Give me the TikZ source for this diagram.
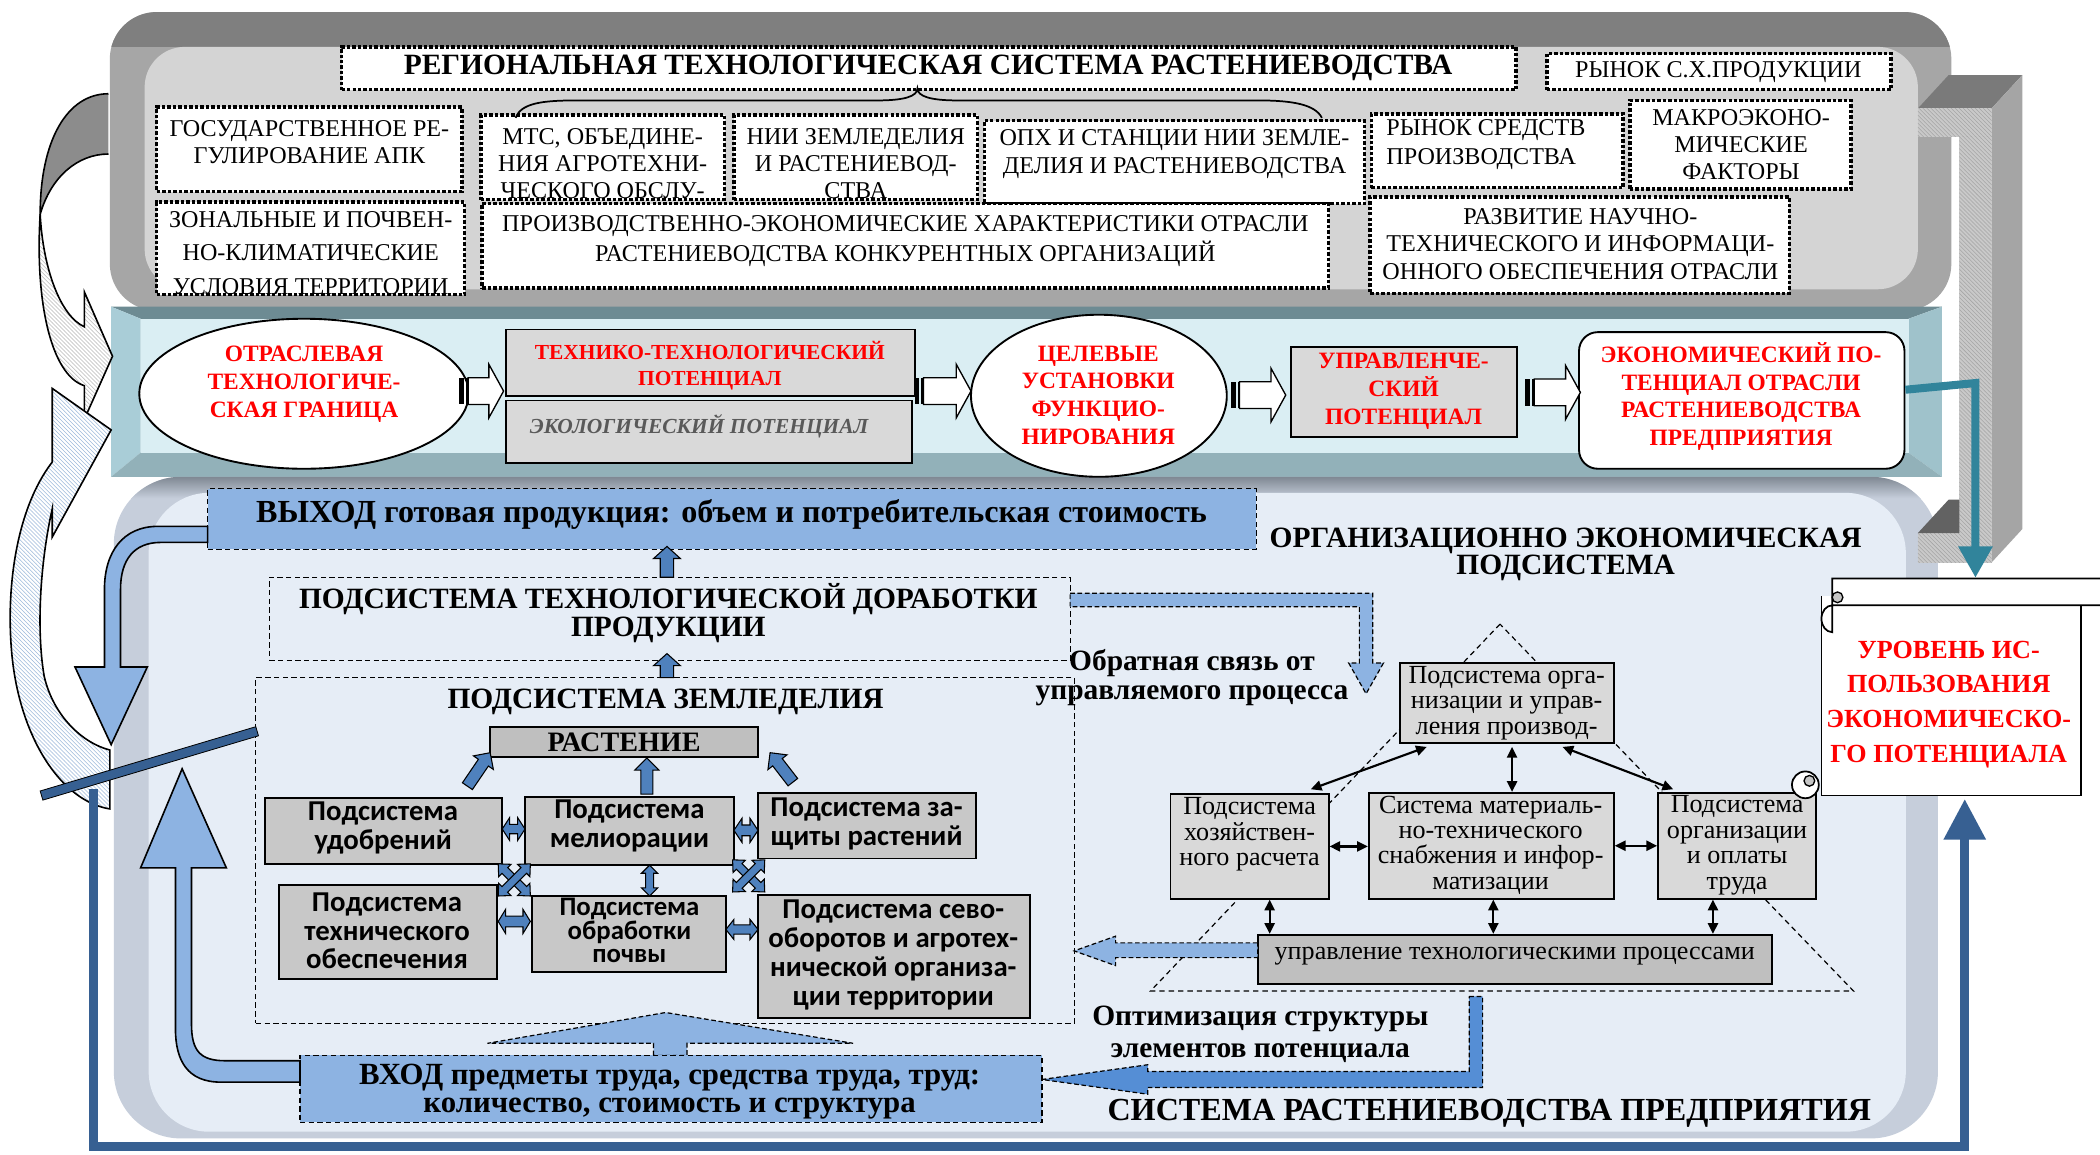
\documentclass[tikz,border=0pt]{standalone}
\usepackage{fontspec}
\setmainfont{Liberation Serif}
\newfontfamily\calfont{Carlito}
\usetikzlibrary{calc,patterns,arrows.meta,shapes.geometric}
\definecolor{tpDark}{HTML}{7F7F7F}
\definecolor{tpSide}{HTML}{A6A6A6}
\definecolor{tpFront}{HTML}{D4D4D4}
\definecolor{mpTop}{HTML}{6D8B93}
\definecolor{mpLeft}{HTML}{A9CDD7}
\definecolor{mpRight}{HTML}{9FC2CB}
\definecolor{mpBottom}{HTML}{92B1B9}
\definecolor{mpFront}{HTML}{DAEEF3}
\definecolor{lpSide}{HTML}{C6CEDB}
\definecolor{lpTop}{HTML}{7F8893}
\definecolor{lpFront}{HTML}{E6EDF6}
\definecolor{lblue}{HTML}{8DB3E2}
\definecolor{mblue}{HTML}{558ED5}
\definecolor{sblue}{HTML}{4F81BD}
\definecolor{dblue}{HTML}{376092}
\definecolor{tealarr}{HTML}{31849B}
\definecolor{boxgray}{HTML}{D9D9D9}
\definecolor{landgray}{HTML}{C8C8C8}
\definecolor{midgray}{HTML}{BFBFBF}
\definecolor{ecogray}{HTML}{595959}
\definecolor{pipeFront}{HTML}{C9C9C9}
\definecolor{pipeSide}{HTML}{A5A5A5}
\definecolor{pipeTop}{HTML}{7A7A7A}
\definecolor{hatchgray}{HTML}{8C8C8C}
\newcommand\fsz[2]{\fontsize{#1}{#2}\selectfont}
% block arrow: [style]{x1}{y1}{x2}{y2}{shaft half}{head half}{head length}
\newcommand\blkarrow[8][]{%
  \pgfmathsetmacro\baAng{atan2((#3)-(#5),(#4)-(#2))}%
  \pgfmathsetmacro\baLen{veclen((#4)-(#2),(#5)-(#3))}%
  \pgfmathsetmacro\baL{\baLen-(#8)}%
  \begin{scope}[shift={(#2,#3)},rotate=\baAng]
    \draw[#1] (0pt,#6pt) -- (\baL pt,#6pt) -- (\baL pt,#7pt) -- (\baLen pt,0pt)
      -- (\baL pt,-#7pt) -- (\baL pt,-#6pt) -- (0pt,-#6pt) -- cycle;
  \end{scope}}
\newcommand\dblarrow[8][]{%
  \pgfmathsetmacro\baAng{atan2((#3)-(#5),(#4)-(#2))}%
  \pgfmathsetmacro\baLen{veclen((#4)-(#2),(#5)-(#3))}%
  \pgfmathsetmacro\baL{\baLen-(#8)}%
  \begin{scope}[shift={(#2,#3)},rotate=\baAng]
    \draw[#1] (0pt,0pt) -- (#8pt,#7pt) -- (#8pt,#6pt) -- (\baL pt,#6pt) -- (\baL pt,#7pt)
      -- (\baLen pt,0pt) -- (\baL pt,-#7pt) -- (\baL pt,-#6pt) -- (#8pt,-#6pt) -- (#8pt,-#7pt) -- cycle;
  \end{scope}}
\newcommand\hollowarr[3]{%
  \fill[black] (#1,{#3-10}) rectangle ({#1+3.5},{#3+10});
  \fill[black] ({#1+5},{#3-10}) rectangle ({#1+6.5},{#3+10});
  \draw[line width=1pt, fill=white] ({#1+6.5},{#3-10}) -- ({#2-11},{#3-10}) -- ({#2-11},{#3-20})
    -- (#2,#3) -- ({#2-11},{#3+20}) -- ({#2-11},{#3+10}) -- ({#1+6.5},{#3+10}) -- cycle;}
\begin{document}
\begin{tikzpicture}[x=1pt,y=-1pt,
  dotbox/.style={draw, line width=2.6pt, dash pattern=on 2.6pt off 1.5pt, fill=white, inner sep=0pt},
  ttop/.style={align=center, inner sep=0pt, font=\fsz{18}{20.5}},
  redb/.style={align=center, inner sep=0pt, text=red, font=\bfseries\fsz{17.5}{20.7}},
  gbox/.style={draw, line width=1.4pt, fill=boxgray, inner sep=0pt},
  lbox/.style={draw, line width=1.4pt, fill=landgray, inner sep=0pt},
  dashbox/.style={draw, line width=0.9pt, dash pattern=on 4pt off 2.5pt, inner sep=0pt},
  btxt/.style={align=center, inner sep=0pt, font=\bfseries\fsz{22}{21}},
  ltxt/.style={align=center, inner sep=0pt, font=\calfont\bfseries\fsz{21.5}{21.5}},
  otxt/.style={align=center, inner sep=0pt, font=\fsz{19.5}{19}},
  smallblue/.style={draw=black, line width=0.8pt, fill=sblue},
  dashblue/.style={draw=black, line width=0.9pt, dash pattern=on 3.5pt off 2pt, fill=lblue},
  biarrow/.style={{Triangle[length=8pt,width=7.5pt]}-{Triangle[length=8pt,width=7.5pt]}, line width=1.6pt},
  bluearr/.style={draw=black, line width=1.2pt, fill=lblue},
]
\useasboundingbox (0,0) rectangle (1568,862);
\fill[white] (0,0) rectangle (1568,862);

% ================= TOP PANEL =================
\begin{scope}
  \clip[rounded corners=35] (82,9) rectangle (1457,232);
  \fill[tpSide] (0,0) rectangle (1568,300);
  \fill[tpDark] (0,0) rectangle (1568,35);
\end{scope}
\fill[tpFront, rounded corners=30] (108,35) rectangle (1432,216);

% ================= MIDDLE PANEL =================
\fill[mpTop] (83,229) -- (1450,229) -- (1425,238) -- (105,238) -- cycle;
\fill[mpLeft] (83,229) -- (105,238) -- (105,338) -- (83,356) -- cycle;
\fill[mpRight] (1450,229) -- (1425,238) -- (1425,338) -- (1450,356) -- cycle;
\fill[mpBottom] (83,356) -- (105,338) -- (1425,338) -- (1450,356) -- cycle;
\fill[mpFront] (105,238) rectangle (1425,338);

% ================= LOWER PANEL =================
\begin{scope}
  \clip[rounded corners=50] (85,356) rectangle (1447,850);
  \fill[lpSide] (0,300) rectangle (1568,862);
  \shade[top color=lpTop, bottom color=lpSide] (0,356) rectangle (1568,372);
\end{scope}
\fill[lpFront, rounded corners=45] (111,368) rectangle (1423,845);

% ================= RIGHT PIPE =================
\fill[pipeTop] (1432,81) -- (1455,56) -- (1510,56) -- (1487,81) -- cycle;
\fill[pipeSide] (1487,81) -- (1510,56) -- (1510,395) -- (1487,420) -- cycle;
\path[preaction={fill=pipeFront}, pattern=north west lines, pattern color=gray!70] (1432,81) rectangle (1487,102);
\path[preaction={fill=pipeFront}, pattern=north west lines, pattern color=gray!70] (1463,102) rectangle (1487,420);
\path[preaction={fill=pipeFront}, pattern=north west lines, pattern color=gray!70] (1432,398) rectangle (1487,420);
\fill[pipeTop!80!black] (1432,398) -- (1455,373) -- (1463,373) -- (1463,398) -- cycle;

% ================= TOP BOXES =================
\node[dotbox, minimum width=877, minimum height=32] (title) at (693.5,51) {};
\node[align=center, inner sep=0pt, font=\bfseries\fsz{22}{24}] (title-t) at (693,51) {РЕГИОНАЛЬНАЯ ТЕХНОЛОГИЧЕСКАЯ СИСТЕМА РАСТЕНИЕВОДСТВА};
\node[dotbox, minimum width=257, minimum height=27] (rynok) at (1283.5,53.5) {};
\node[ttop] (rynok-t) at (1283,53.5) {РЫНОК С.Х.ПРОДУКЦИИ};
\node[dotbox, minimum width=228, minimum height=63] (gos) at (231,111.5) {};
\node[ttop, font=\fsz{18}{20}] (gos-t) at (231,106) {ГОСУДАРСТВЕННОЕ РЕ-\\ГУЛИРОВАНИЕ АПК};
\node[dotbox, minimum width=230, minimum height=69] (zon) at (232,185.5) {};
\node[ttop, font=\fsz{18}{25}] (zon-t) at (232,189) {ЗОНАЛЬНЫЕ И ПОЧВЕН-\\НО-КЛИМАТИЧЕСКИЕ\\УСЛОВИЯ ТЕРРИТОРИИ};
\node[dotbox, minimum width=182, minimum height=63] (mts) at (450,117.5) {};
\node[ttop, font=\fsz{18}{20}] (mts-t) at (450,122) {МТС, ОБЪЕДИНЕ-\\НИЯ АГРОТЕХНИ-\\ЧЕСКОГО ОБСЛУ-};
\node[dotbox, minimum width=182, minimum height=63] (nii) at (639,117.5) {};
\node[ttop, font=\fsz{18}{20}] (nii-t) at (639,122) {НИИ ЗЕМЛЕДЕЛИЯ\\И РАСТЕНИЕВОД-\\СТВА};
\node[dotbox, minimum width=284, minimum height=62] (oph) at (877,121) {};
\node[ttop, font=\fsz{18}{21.5}] (oph-t) at (877,115) {ОПХ И СТАНЦИИ НИИ ЗЕМЛЕ-\\ДЕЛИЯ И РАСТЕНИЕВОДСТВА};
\node[dotbox, minimum width=632, minimum height=63] (proiz) at (676,183.5) {};
\node[ttop, font=\fsz{18}{23}] (proiz-t) at (676,180) {ПРОИЗВОДСТВЕННО-ЭКОНОМИЧЕСКИЕ ХАРАКТЕРИСТИКИ ОТРАСЛИ\\РАСТЕНИЕВОДСТВА КОНКУРЕНТНЫХ ОРГАНИЗАЦИЙ};
\node[dotbox, minimum width=188, minimum height=55] (rsp) at (1118,112.5) {};
\node[ttop, align=left, anchor=west, font=\fsz{18}{22}] (rsp-t) at (1035,108) {РЫНОК СРЕДСТВ\\ПРОИЗВОДСТВА};
\node[dotbox, minimum width=165, minimum height=66] (makro) at (1299.5,108) {};
\node[ttop] (makro-t) at (1300,108) {МАКРОЭКОНО-\\МИЧЕСКИЕ\\ФАКТОРЫ};
\node[dotbox, minimum width=313, minimum height=72] (razv) at (1179.5,183) {};
\node[ttop] (razv-t) at (1180,182) {РАЗВИТИЕ НАУЧНО-\\ТЕХНИЧЕСКОГО И ИНФОРМАЦИ-\\ОННОГО ОБЕСПЕЧЕНИЯ ОТРАСЛИ};
% brace
\draw[line width=1.3pt] (385,88) .. controls (389,77) and (405,75) .. (430,75) -- (655,75)
  .. controls (675,75) and (685,72) .. (685,66) .. controls (685,72) and (695,75) .. (715,75)
  -- (940,75) .. controls (965,75) and (982,78) .. (987,88);

% ================= MIDDLE ELEMENTS =================
\node[ellipse, draw, line width=1.4pt, fill=white, minimum width=246, minimum height=112, inner sep=0pt] (ell1) at (227,294) {};
\node[redb] (ell1-t) at (227,287) {ОТРАСЛЕВАЯ\\ТЕХНОЛОГИЧЕ-\\СКАЯ ГРАНИЦА};
\node[gbox, minimum width=305, minimum height=50] (tex) at (530.5,271) {};
\node[redb, font=\bfseries\fsz{16}{20}] (tex-t) at (530,273) {ТЕХНИКО-ТЕХНОЛОГИЧЕСКИЙ\\ПОТЕНЦИАЛ};
\node[gbox, minimum width=303, minimum height=47] (eco) at (529.5,322.5) {};
\node[inner sep=0pt, text=ecogray, font=\bfseries\itshape\fsz{16}{18}] (eco-t) at (522,318) {ЭКОЛОГИЧЕСКИЙ ПОТЕНЦИАЛ};
\node[ellipse, draw, line width=1.4pt, fill=white, minimum width=191, minimum height=121, inner sep=0pt] (ell2) at (820.5,295.5) {};
\node[redb] (ell2-t) at (820,295) {ЦЕЛЕВЫЕ\\УСТАНОВКИ\\ФУНКЦИО-\\НИРОВАНИЯ};
\node[gbox, minimum width=169, minimum height=67] (upr) at (1048.5,292.5) {};
\node[redb] (upr-t) at (1048,292) {УПРАВЛЕНЧЕ-\\СКИЙ\\ПОТЕНЦИАЛ};
\node[draw, line width=1.4pt, fill=white, rounded corners=14, minimum width=243, minimum height=102, inner sep=0pt] (econ) at (1300.5,299) {};
\node[redb] (econ-t) at (1300,296) {ЭКОНОМИЧЕСКИЙ ПО-\\ТЕНЦИАЛ ОТРАСЛИ\\РАСТЕНИЕВОДСТВА\\ПРЕДПРИЯТИЯ};
\hollowarr{343}{376}{292}
\hollowarr{683}{725}{292}
\hollowarr{919}{960}{295}
\hollowarr{1139}{1180}{293}

% ================= LOWER ELEMENTS =================
% dashed triangle of org subsystem
\draw[line width=0.9pt, dash pattern=on 4pt off 3pt] (1120,466) -- (859,740) -- (1384,740) -- cycle;

\node[dashbox, fill=lblue, minimum width=783, minimum height=45] (vyhod) at (546.5,387.5) {};
\node[anchor=base west, inner sep=0pt, font=\bfseries\fsz{24}{25}] (vyhod-t) at (191,390) {ВЫХОД готовая продукция: объем и потребительская стоимость};
\node[dashbox, minimum width=598, minimum height=62] (dor) at (500,462) {};
\node[btxt] (dor-t) at (499,458) {ПОДСИСТЕМА ТЕХНОЛОГИЧЕСКОЙ ДОРАБОТКИ\\ПРОДУКЦИИ};
\node[dashbox, minimum width=611, minimum height=258] (zem) at (496.5,635) {};
\node[btxt] (zem-t) at (497,524) {ПОДСИСТЕМА ЗЕМЛЕДЕЛИЯ};
\blkarrow[smallblue]{498}{431}{498}{408}{5}{10}{9}
\blkarrow[smallblue]{498}{506}{498}{488}{5}{10}{9}

\node[draw, line width=1.4pt, fill=midgray, minimum width=200, minimum height=22, inner sep=0pt] (rast) at (466,554) {};
\node[inner sep=0pt, font=\bfseries\fsz{21}{22}] (rast-t) at (466,554) {РАСТЕНИЕ};
\node[lbox, minimum width=177, minimum height=49] (udob) at (286.5,620.5) {};
\node[ltxt] (udob-t) at (286,618) {Подсистема\\удобрений};
\node[lbox, minimum width=156, minimum height=51] (mel) at (470,620.5) {};
\node[ltxt] (mel-t) at (470,617) {Подсистема\\мелиорации};
\node[lbox, minimum width=163, minimum height=49] (zasch) at (647.5,616.5) {};
\node[ltxt] (zasch-t) at (647,615) {Подсистема за-\\щиты растений};
\node[lbox, minimum width=163, minimum height=70] (tehn) at (289.5,696) {};
\node[ltxt] (tehn-t) at (289,695) {Подсистема\\технического\\обеспечения};
\node[lbox, minimum width=145, minimum height=57] (obr) at (469.5,697.5) {};
\node[ltxt, font=\calfont\bfseries\fsz{20}{17.5}] (obr-t) at (470,695) {Подсистема\\обработки\\почвы};
\node[lbox, minimum width=203, minimum height=92] (sev) at (667.5,714) {};
\node[ltxt] (sev-t) at (667,713) {Подсистема сево-\\оборотов и агротех-\\нической организа-\\ции территории};
% arrows to plant
\blkarrow[smallblue]{349}{587}{366}{562}{4.5}{9}{9}
\blkarrow[smallblue]{483}{593}{483}{566}{4.5}{9}{9}
\blkarrow[smallblue]{592}{584}{575}{562}{4.5}{9}{9}
% small double arrows
\dblarrow[smallblue]{375}{619}{392}{619}{3.5}{8.5}{5.5}
\dblarrow[smallblue]{548}{620}{566}{620}{4}{9}{6}
\dblarrow[smallblue]{372}{645}{396}{669}{3}{6.5}{7}
\dblarrow[smallblue]{372}{669}{396}{645}{3}{6.5}{7}
\dblarrow[smallblue]{547}{642}{571}{666}{3}{6.5}{7}
\dblarrow[smallblue]{547}{666}{571}{642}{3}{6.5}{7}
\dblarrow[smallblue]{485}{646}{485}{669}{3}{6}{6}
\dblarrow[smallblue]{372}{688}{396}{688}{4}{9}{5.5}
\dblarrow[smallblue]{542}{694}{566}{694}{3.5}{7.5}{6}

% organizational subsystem
\node[btxt, font=\bfseries\fsz{22}{20.5}] (org-t) at (1169,414) {ОРГАНИЗАЦИОННО ЭКОНОМИЧЕСКАЯ\\ПОДСИСТЕМА};
\draw[dashblue] (799,443) -- (1025,443) -- (1025,495) -- (1033,495) -- (1020,518) -- (1007,495)
  -- (1015,495) -- (1015,453) -- (799,453) -- cycle;
\node[btxt, font=\bfseries\fsz{22}{22}] (fb-t) at (890,506) {Обратная связь от\\управляемого процесса};
\node[gbox, minimum width=160, minimum height=60] (org1) at (1125,525) {};
\node[otxt] (org1-t) at (1125,525) {Подсистема орга-\\низации и управ-\\ления производ-};
\node[gbox, minimum width=118, minimum height=78] (hoz) at (933,632) {};
\node[otxt] (hoz-t) at (933,623) {Подсистема\\хозяйствен-\\ного расчета};
\node[gbox, minimum width=183, minimum height=79] (sys) at (1113.5,631.5) {};
\node[otxt] (sys-t) at (1113,631) {Система материаль-\\но-технического\\снабжения и инфор-\\матизации};
\node[gbox, minimum width=118, minimum height=79] (trud) at (1297,631.5) {};
\node[otxt] (trud-t) at (1297,631) {Подсистема\\организации\\и оплаты\\труда};
\node[draw, line width=1.4pt, fill=midgray, minimum width=384, minimum height=37, inner sep=0pt] (upr2) at (1131,716.5) {};
\node[otxt] (upr2-t) at (1131,714) {управление технологическими процессами};
\coordinate (a1s) at ($(hoz.north east)+(-14,-3)$);
\coordinate (a1e) at ($(org1.south west)+(21,2)$);
\draw[biarrow] (a1s) -- (a1e);
\coordinate (a2s) at ($(org1.south)+(4,2)$);
\draw[biarrow] (a2s) -- (a2s |- sys.north);
\coordinate (a3s) at ($(org1.south east)+(-39,2)$);
\coordinate (a3e) at ($(trud.north west)+(12,-2)$);
\draw[biarrow] (a3s) -- (a3e);
\draw[biarrow] (hoz.east) -- (hoz.east -| sys.west);
\draw[biarrow] (sys.east) -- (sys.east -| trud.west);
\coordinate (v1) at ($(hoz.south)+(15,0)$);
\coordinate (v2) at ($(sys.south)+(1.5,0)$);
\coordinate (v3) at ($(trud.south)+(-18,0)$);
\draw[biarrow] (v1) -- (v1 |- upr2.north);
\draw[biarrow] (v2) -- (v2 |- upr2.north);
\draw[biarrow] (v3) -- (v3 |- upr2.north);
% arrow from process management to land subsystem
\draw[dashblue] (939,704) -- (833,704) -- (833,699) -- (802,710) -- (833,721) -- (833,715) -- (939,715) -- cycle;
% optimisation arrow
\draw[dashblue, fill=mblue] (1097,744) -- (1107,744) -- (1107,812) -- (857,812) -- (857,817) -- (778,806)
  -- (857,795) -- (857,800) -- (1097,800) -- cycle;
\node[btxt, font=\bfseries\fsz{22}{24}] (opt-t) at (941,772) {Оптимизация структуры\\элементов потенциала};
% input
\draw[dashblue] (488,788) -- (488,779) -- (364,779) -- (497,756) -- (637,779) -- (513,779) -- (513,788) -- cycle;
\node[dashbox, fill=lblue, minimum width=554, minimum height=50] (vhod) at (501,813) {};
\begin{scope}
  \clip (224,788) rectangle (778,836);
  \node[btxt, font=\bfseries\fsz{23}{20.5}] (vhod-t) at (500,815) {ВХОД предметы труда, средства труда, труд:\\количество, стоимость и структура};
\end{scope}
\node[inner sep=0pt, font=\bfseries\fsz{24}{25}] (sys-name) at (1112,831) {СИСТЕМА РАСТЕНИЕВОДСТВА ПРЕДПРИЯТИЯ};

% ================= SCROLL =================
\draw[line width=1.3pt, fill=white] (1360,445) -- (1360,594) -- (1554,594) -- (1554,450);
\draw[line width=1.3pt, fill=white] (1368,432) -- (1580,432) -- (1580,452) -- (1368,452)
  arc[start angle=270, end angle=90, x radius=8, y radius=10] -- cycle;
\draw[line width=1pt, fill=gray!45] (1372,446) circle (4);
\draw[line width=1.3pt, fill=white] (1348,586) circle (10);
\draw[line width=1pt, fill=gray!45] (1351,583) circle (4);
\node[align=center, inner sep=0pt, text=red, font=\bfseries\fsz{19.5}{26}] (scroll-t) at (1455,526) {УРОВЕНЬ ИС-\\ПОЛЬЗОВАНИЯ\\ЭКОНОМИЧЕСКО-\\ГО ПОТЕНЦИАЛА};

% ================= LEFT ARROWS =================
% arrow A (top panel -> middle panel)
\fill[hatchgray] (81,70) .. controls (50,70) and (30,105) .. (30,160) .. controls (38,132) and (58,115) .. (81,115) -- cycle;
\draw[line width=1.2pt] (81,70) .. controls (50,70) and (30,105) .. (30,160) .. controls (38,132) and (58,115) .. (81,115);
\path[draw, line width=1.2pt, preaction={fill=white}, pattern=north west lines, pattern color=gray!55]
  (30,160) .. controls (32,200) and (45,236) .. (63,244) -- (63,218) -- (84,266) -- (63,313) -- (63,288)
  .. controls (38,280) and (26,225) .. (30,160) -- cycle;
% arrow B (lower panel -> middle panel)
\path[draw, line width=1.2pt, preaction={fill=white}, pattern=north west lines, pattern color=sblue!55]
  (82,560) .. controls (62,555) and (40,535) .. (33,505) .. controls (27,470) and (30,420) .. (39,380)
  -- (39,401) -- (83,321) -- (39,290) -- (39,345)
  .. controls (12,380) and (4,440) .. (9,490) .. controls (15,550) and (45,598) .. (82,604) -- cycle;
% arrow C (output -> down)
\draw[bluearr] (155,393) -- (118,393) .. controls (92,393) and (78,412) .. (78,440) -- (78,498) -- (56,498)
  -- (83,556) -- (110,498) -- (90,498) -- (90,440) .. controls (90,418) and (100,405) .. (120,405) -- (155,405) -- cycle;
% arrow D (input -> up)
\draw[bluearr] (224,808) -- (165,808) .. controls (140,808) and (131,792) .. (131,768) -- (131,648) -- (105,648)
  -- (136,574) -- (169,648) -- (143,648) -- (143,765) .. controls (143,785) and (150,792) .. (168,792) -- (224,792) -- cycle;
% slanted bar
\draw[fill=dblue, draw=black, line width=0.6pt] (30,590.6) -- (191,542.6) -- (193,549.4) -- (32,597.4) -- cycle;
% frame
\draw[dblue, line width=7pt, line join=miter] (70,589) -- (70,856) -- (1467,856) -- (1467,622);
\fill[dblue] (1451,627) -- (1483,627) -- (1467,597) -- cycle;
% teal arrow
\draw[tealarr, line width=6pt, line join=miter] (econ.east |- 0,291) -- (1475,286) -- (1475,410);
\fill[tealarr] (1462,408) -- (1488,408) -- (1475,431) -- cycle;
\end{tikzpicture}
\end{document}
